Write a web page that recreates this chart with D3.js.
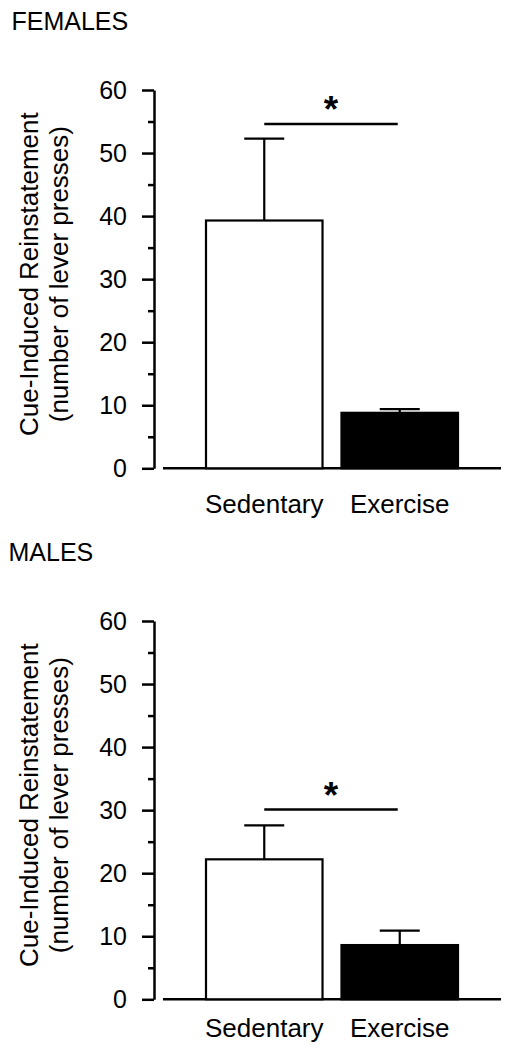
<!DOCTYPE html>
<html>
<head>
<meta charset="utf-8">
<script src="https://cdn.jsdelivr.net/npm/d3@7"></script>
<style>
  html, body { margin: 0; padding: 0; background: #fff; }
  svg { display: block; }
  text { font-family: "Liberation Sans", Arial, Helvetica, sans-serif; fill: #000; }
</style>
</head>
<body>
<script>
// ---- data ----
const categories = ["Sedentary", "Exercise"];
const yMajorTicks = [0, 10, 20, 30, 40, 50, 60];
const yMinorTicks = [5, 15, 25, 35, 45, 55];
const yLabelLines = ["Cue-Induced Reinstatement", "(number of lever presses)"];

const femalesMean = [39.3, 8.8];
const femalesSEM  = [13.0, 0.6];
const femalesSig  = 54.6;

const malesMean = [22.2, 8.6];
const malesSEM  = [5.4, 2.3];
const malesSig  = 30.1;

const panelTitles = ["FEMALES", "MALES"];

// ---- layout ----
const W = 508, H = 1049;
const svg = d3.select("body").append("svg").attr("width", W).attr("height", H);

const panels = [
  { title: panelTitles[0], mean: femalesMean, sem: femalesSEM, sig: femalesSig,
    top: 0, titleX: 11.5, catDy: 45 },
  { title: panelTitles[1], mean: malesMean, sem: malesSEM, sig: malesSig,
    top: 531, titleX: 8.5, catDy: 37.5 }
];

const FS = 25;

panels.forEach(p => {
  const g = svg.append("g").attr("transform", `translate(0,${p.top})`);
  const y = d3.scaleLinear().domain([0, 60]).range([468.3, 90]);
  const x = d3.scaleBand().domain(categories).range([206, 458])
    .paddingInner(0.14).paddingOuter(0);
  const axisX = 154;

  // title
  g.append("text").attr("x", p.titleX).attr("y", 30)
    .style("font-size", FS + "px").text(p.title);

  // y axis label
  const yl = g.append("g")
    .attr("transform", `translate(0,${(y(0) + y(60)) / 2 - 5}) rotate(-90)`);
  yLabelLines.forEach((t, i) => {
    yl.append("text").attr("x", 0).attr("y", 38 + i * 30)
      .attr("text-anchor", "middle").style("font-size", "26px").text(t);
  });

  // major axis
  const ax = g.append("g").attr("transform", `translate(${axisX},0)`)
    .call(d3.axisLeft(y).tickValues(yMajorTicks).tickSize(12).tickSizeOuter(0)
      .tickPadding(15).tickFormat(d3.format("d")));
  ax.select(".domain").attr("stroke", "#000").attr("stroke-width", 2.5);
  ax.selectAll(".tick line").attr("stroke", "#000").attr("stroke-width", 2.5);
  ax.selectAll(".tick text").style("font-size", FS + "px")
    .style("font-family", '"Liberation Sans", Arial, sans-serif').attr("fill", "#000");

  // minor ticks
  const mx = g.append("g").attr("transform", `translate(${axisX},0)`)
    .call(d3.axisLeft(y).tickValues(yMinorTicks).tickSize(6).tickSizeOuter(0).tickFormat(""));
  mx.select(".domain").remove();
  mx.selectAll(".tick line").attr("stroke", "#000").attr("stroke-width", 2.5);

  // baseline
  g.append("line").attr("x1", 163).attr("x2", 501)
    .attr("y1", y(0)).attr("y2", y(0))
    .attr("stroke", "#000").attr("stroke-width", 2.5);

  // error bars (behind bars)
  categories.forEach((c, i) => {
    const cx = x(c) + x.bandwidth() / 2;
    const top = y(p.mean[i] + p.sem[i]);
    g.append("line").attr("x1", cx).attr("x2", cx)
      .attr("y1", y(p.mean[i])).attr("y2", top)
      .attr("stroke", "#000").attr("stroke-width", 2.2);
    g.append("line").attr("x1", cx - 20).attr("x2", cx + 20)
      .attr("y1", top).attr("y2", top)
      .attr("stroke", "#000").attr("stroke-width", 2.2);
  });

  // bars
  g.selectAll("rect.bar").data(categories).enter().append("rect")
    .attr("class", "bar")
    .attr("x", c => x(c))
    .attr("width", x.bandwidth())
    .attr("y", (c, i) => y(p.mean[i]))
    .attr("height", (c, i) => y(0) - y(p.mean[i]))
    .attr("fill", (c, i) => i === 0 ? "#fff" : "#000")
    .attr("stroke", "#000").attr("stroke-width", 2.2);

  // significance line + star
  const c0 = x(categories[0]) + x.bandwidth() / 2;
  const c1 = x(categories[1]) + x.bandwidth() / 2 - 2;
  g.append("line").attr("x1", c0).attr("x2", c1)
    .attr("y1", y(p.sig)).attr("y2", y(p.sig))
    .attr("stroke", "#000").attr("stroke-width", 2.5);
  g.append("text").attr("x", (c0 + c1) / 2).attr("y", y(p.sig) - 23 + 21)
    .attr("text-anchor", "middle").style("font-size", "37px").style("font-weight", "bold")
    .text("*");

  // category labels
  g.selectAll("text.cat").data(categories).enter().append("text")
    .attr("class", "cat")
    .attr("x", c => x(c) + x.bandwidth() / 2)
    .attr("y", y(0) + p.catDy)
    .attr("text-anchor", "middle").style("font-size", "26px")
    .text(c => c);
});
</script>
</body>
</html>
